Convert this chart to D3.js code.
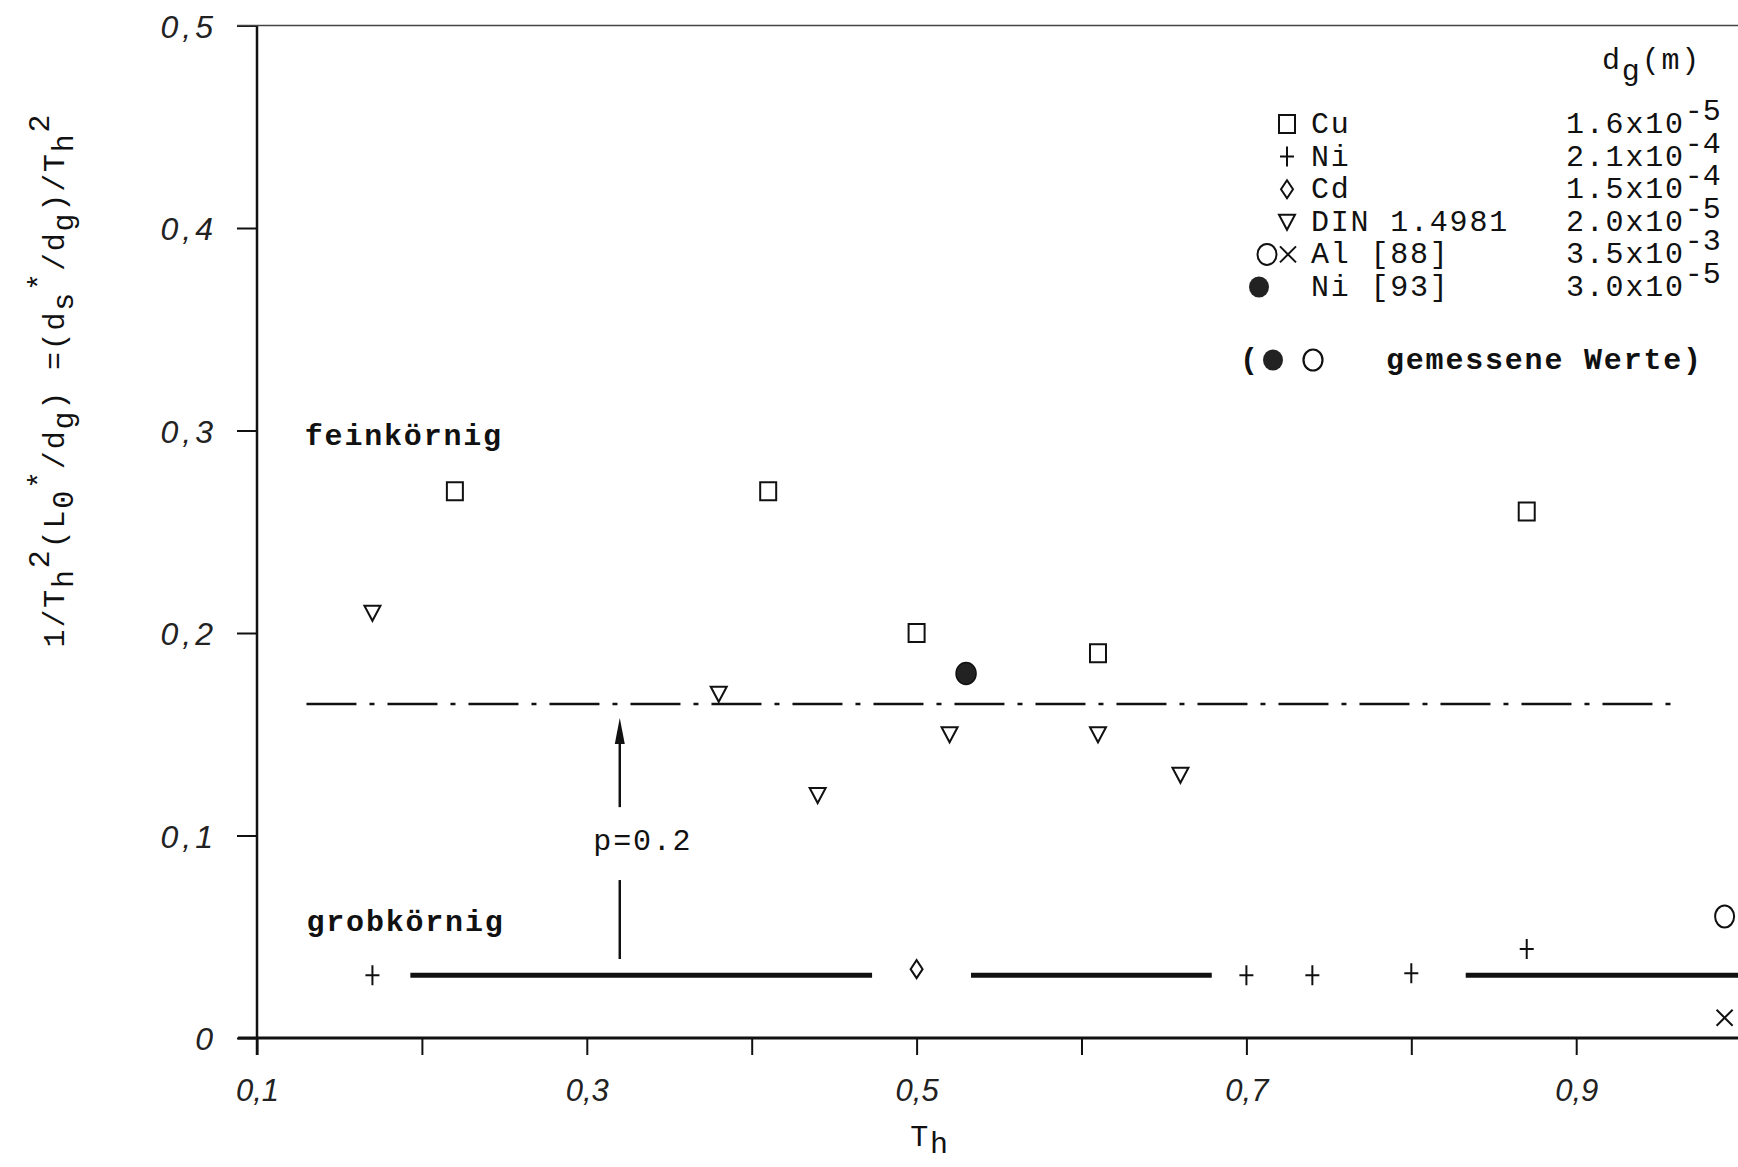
<!DOCTYPE html>
<html><head><meta charset="utf-8">
<script src="https://cdn.jsdelivr.net/npm/d3@7/dist/d3.min.js"></script>
<style>
html,body{margin:0;padding:0;background:#fff;}
svg{display:block;}
.mono{font-family:"Liberation Mono","DejaVu Sans Mono",monospace;font-size:30px;letter-spacing:1.8px;fill:#111;}
.xt .tick text{font-family:"Liberation Sans Narrow","Liberation Sans",Arial,sans-serif;font-style:italic;font-size:31px;fill:#222;}
.yt .tick text{font-family:"Liberation Sans",Arial,sans-serif;font-style:italic;font-size:32px;letter-spacing:4px;fill:#222;}
</style></head>
<body>
<script>
// ---------- data ----------
const cuX   = [0.22, 0.41, 0.50, 0.61, 0.87];
const cuY   = [0.27, 0.27, 0.20, 0.19, 0.26];
const niX   = [0.17, 0.70, 0.74, 0.80, 0.87];
const niY   = [0.031, 0.031, 0.031, 0.032, 0.044];
const cdX   = [0.50];
const cdY   = [0.034];
const dinX  = [0.17, 0.38, 0.44, 0.52, 0.61, 0.66];
const dinY  = [0.21, 0.17, 0.12, 0.15, 0.15, 0.13];
const alOX  = [0.99];
const alOY  = [0.060];
const alXX  = [0.99];
const alXY  = [0.010];
const ni93X = [0.53];
const ni93Y = [0.18];

const xTicks = [0.1, 0.2, 0.3, 0.4, 0.5, 0.6, 0.7, 0.8, 0.9];
const xLabels = ["0,1", "", "0,3", "", "0,5", "", "0,7", "", "0,9"];
const yTicks = [0, 0.1, 0.2, 0.3, 0.4, 0.5];
const yLabels = ["0", "0,1", "0,2", "0,3", "0,4", "0,5"];

const pLevel = 0.165;                // dash-dot line (p = 0.2)
const pRange = [0.13, 0.96];
const coarseLevel = 0.031;           // thick solid segments
const coarseSegs = [[0.193, 0.473], [0.533, 0.679], [0.833, 1.0]];
const arrowX = 0.32;
const arrowLower = [0.039, 0.078];
const arrowUpper = [0.114, 0.158];

const legendTypes = ["square", "plus", "diamond", "tri", "alpair", "filled"];
const legendNames = ["Cu", "Ni", "Cd", "DIN 1.4981", "Al [88]", "Ni [93]"];
const legendMant  = ["1.6x10", "2.1x10", "1.5x10", "2.0x10", "3.5x10", "3.0x10"];
const legendExp   = ["-5", "-4", "-4", "-5", "-3", "-5"];

// ---------- layout ----------
const W = 1738, H = 1167;
const svg = d3.select("body").append("svg").attr("width", W).attr("height", H);
svg.append("rect").attr("width", W).attr("height", H).attr("fill", "#fff");

const x = d3.scaleLinear().domain([0.1, 1.0]).range([257, 257 + 9 * 164.9]);
const y = d3.scaleLinear().domain([0, 0.5]).range([1038, 25.5]);

const ink = "#111";

function shape(type, cx, cy) {
  switch (type) {
    case "square": return `M${cx-8},${cy-9}h16v18h-16Z`;
    case "plus": return `M${cx-7},${cy}h14M${cx},${cy-10}v20`;
    case "diamond": return `M${cx},${cy-9}L${cx+6},${cy}L${cx},${cy+9}L${cx-6},${cy}Z`;
    case "tri": return `M${cx-8},${cy-7}L${cx+8},${cy-7}L${cx},${cy+8}Z`;
    case "cross": return `M${cx-8},${cy-8}L${cx+8},${cy+8}M${cx+8},${cy-8}L${cx-8},${cy+8}`;
  }
}
function drawPts(xs, ys, type, g) {
  g.selectAll(null).data(xs.map((d, i) => [d, ys[i]])).enter().append("path")
    .attr("d", d => shape(type, x(d[0]), y(d[1])))
    .attr("fill", "none").attr("stroke", ink).attr("stroke-width", 2);
}

// ---------- axes ----------
const xAxis = d3.axisBottom(x).tickValues(xTicks).tickSize(17)
  .tickFormat((d, i) => xLabels[i]);
const gx = svg.append("g").attr("class", "xt").attr("transform", `translate(0,${y(0)})`).call(xAxis);
gx.select(".domain").remove();
gx.selectAll(".tick line").attr("stroke", ink).attr("stroke-width", 2);
gx.selectAll(".tick text").attr("y", 63).attr("dy", 0);

const yAxis = d3.axisLeft(y).tickValues(yTicks).tickSize(20)
  .tickFormat((d, i) => yLabels[i]);
const gy = svg.append("g").attr("class", "yt").attr("transform", `translate(${x(0.1)},0)`).call(yAxis);
gy.select(".domain").remove();
gy.selectAll(".tick line").attr("stroke", ink).attr("stroke-width", 2);
gy.selectAll(".tick text").attr("x", -40).attr("dy", "0.36em");

// axis lines
svg.append("line").attr("x1", x(0.1) - 19).attr("x2", W).attr("y1", y(0)).attr("y2", y(0))
  .attr("stroke", ink).attr("stroke-width", 3);
svg.append("line").attr("x1", x(0.1)).attr("x2", x(0.1)).attr("y1", y(0.5)).attr("y2", y(0) + 17)
  .attr("stroke", ink).attr("stroke-width", 2.5);
svg.append("line").attr("x1", x(0.1) - 20).attr("x2", W).attr("y1", y(0.5)).attr("y2", y(0.5))
  .attr("stroke", "#444").attr("stroke-width", 1.5);

// axis titles
const xt = svg.append("text").attr("class", "mono").attr("x", 930).attr("y", 1146).attr("text-anchor", "middle");
xt.append("tspan").text("T");
xt.append("tspan").attr("dy", 7).text("h");

const yt = svg.append("text").attr("class", "mono")
  .attr("transform", "translate(64,380) rotate(-90)").attr("text-anchor", "middle");
const yParts = [["1/T",0],["h",9],["2",-24],["(L",15],["0",9],["*",-24],["/d",15],["g",9],[") =(d",-9],["s",9],["*",-24],["/d",15],["g",9],[")/T",-9],["h",9],["2",-24]];
yParts.forEach(p => yt.append("tspan").attr("dy", p[1]).text(p[0]));

// ---------- reference lines ----------
svg.append("line").attr("x1", x(pRange[0])).attr("x2", x(pRange[1]))
  .attr("y1", y(pLevel)).attr("y2", y(pLevel))
  .attr("stroke", ink).attr("stroke-width", 2.5).attr("stroke-dasharray", "50,13,5,13");
coarseSegs.forEach(s => {
  svg.append("line").attr("x1", x(s[0])).attr("x2", Math.min(W, x(s[1])))
    .attr("y1", y(coarseLevel)).attr("y2", y(coarseLevel))
    .attr("stroke", ink).attr("stroke-width", 5);
});
// arrow
svg.append("line").attr("x1", x(arrowX)).attr("x2", x(arrowX))
  .attr("y1", y(arrowLower[0])).attr("y2", y(arrowLower[1])).attr("stroke", ink).attr("stroke-width", 2.5);
svg.append("line").attr("x1", x(arrowX)).attr("x2", x(arrowX))
  .attr("y1", y(arrowUpper[0])).attr("y2", y(arrowUpper[1]) + 20).attr("stroke", ink).attr("stroke-width", 2.5);
const ax = x(arrowX), ay = y(arrowUpper[1]);
svg.append("path").attr("d", `M${ax},${ay}L${ax+5},${ay+26}L${ax-5},${ay+26}Z`).attr("fill", ink);

svg.append("text").attr("class", "mono").attr("x", x(0.334)).attr("y", y(0.093))
  .attr("text-anchor", "middle").text("p=0.2");
svg.append("text").attr("class", "mono").attr("x", x(0.129)).attr("y", y(0.293))
  .attr("font-weight", "bold").text("feinkörnig");
svg.append("text").attr("class", "mono").attr("x", x(0.130)).attr("y", y(0.053))
  .attr("font-weight", "bold").text("grobkörnig");

// ---------- data points ----------
const gp = svg.append("g");
drawPts(cuX, cuY, "square", gp);
drawPts(niX, niY, "plus", gp);
drawPts(cdX, cdY, "diamond", gp);
drawPts(dinX, dinY, "tri", gp);
drawPts(alXX, alXY, "cross", gp);
gp.selectAll(null).data(alOX.map((d, i) => [d, alOY[i]])).enter().append("ellipse")
  .attr("cx", d => x(d[0])).attr("cy", d => y(d[1])).attr("rx", 9.5).attr("ry", 11)
  .attr("fill", "none").attr("stroke", ink).attr("stroke-width", 2);
gp.selectAll(null).data(ni93X.map((d, i) => [d, ni93Y[i]])).enter().append("ellipse")
  .attr("cx", d => x(d[0])).attr("cy", d => y(d[1])).attr("rx", 10).attr("ry", 11)
  .attr("fill", "#222").attr("stroke", ink).attr("stroke-width", 1.5);

// ---------- legend ----------
const lg = svg.append("g");
const dg = lg.append("text").attr("class", "mono").attr("x", 1602).attr("y", 69);
dg.append("tspan").text("d");
dg.append("tspan").attr("dy", 11).text("g");
dg.append("tspan").attr("dy", -11).text("(m)");

legendNames.forEach((n, i) => {
  const base = 133 + 32.6 * i, cy = base - 9;
  const t = legendTypes[i];
  if (t === "alpair") {
    lg.append("ellipse").attr("cx", 1267).attr("cy", cy).attr("rx", 9.5).attr("ry", 10.5)
      .attr("fill", "none").attr("stroke", ink).attr("stroke-width", 2);
    lg.append("path").attr("d", shape("cross", 1288, cy)).attr("fill", "none").attr("stroke", ink).attr("stroke-width", 2);
  } else if (t === "filled") {
    lg.append("ellipse").attr("cx", 1259).attr("cy", cy).attr("rx", 10).attr("ry", 10.5).attr("fill", "#222");
  } else {
    lg.append("path").attr("d", shape(t, 1287, cy)).attr("fill", "none").attr("stroke", ink).attr("stroke-width", 2);
  }
  lg.append("text").attr("class", "mono").attr("x", 1311).attr("y", base).text(n);
  const v = lg.append("text").attr("class", "mono").attr("x", 1566).attr("y", base);
  v.append("tspan").text(legendMant[i]);
  v.append("tspan").attr("dy", -13).attr("letter-spacing", "0").text(legendExp[i]);
});

const mrow = 369;
lg.append("text").attr("class", "mono").attr("x", 1240).attr("y", mrow).attr("font-weight", "bold").text("(");
lg.append("ellipse").attr("cx", 1273).attr("cy", mrow - 9).attr("rx", 10).attr("ry", 10.5).attr("fill", "#222");
lg.append("ellipse").attr("cx", 1313).attr("cy", mrow - 9).attr("rx", 9.5).attr("ry", 10.5)
  .attr("fill", "none").attr("stroke", ink).attr("stroke-width", 2.2);
lg.append("text").attr("class", "mono").attr("x", 1386).attr("y", mrow).attr("font-weight", "bold").text("gemessene Werte)");
</script>
</body></html>
